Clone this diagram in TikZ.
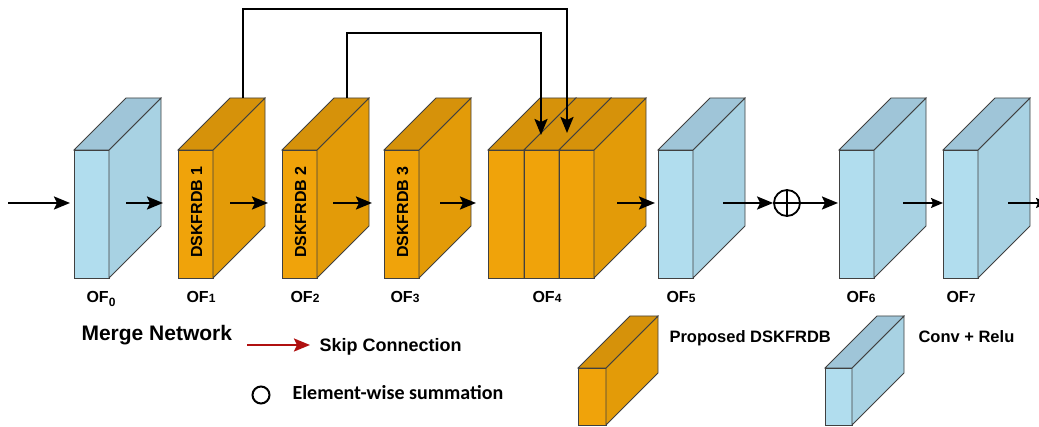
\documentclass[tikz,border=0pt]{standalone}
\usepackage{fontspec}
\setmainfont{Liberation Sans}
\newfontfamily\calfont{Carlito}
\usetikzlibrary{arrows.meta,calc}
\definecolor{orfront}{HTML}{F0A30A}
\definecolor{orside}{HTML}{E39B08}
\definecolor{ortop}{HTML}{D6920A}
\definecolor{blfront}{HTML}{B1DDEE}
\definecolor{blside}{HTML}{A8D2E3}
\definecolor{bltop}{HTML}{9FC5D8}
\definecolor{skipred}{HTML}{B01010}
% cuboid: name, front centre, front width, front height, colour prefix
\newcommand{\featbox}[5]{%
  \node[face,fill=#5front,minimum width=#3,minimum height=#4] (#1) at #2 {};
  \filldraw[face,fill=#5side] (#1.north east) -- ++(52,-52) -- ++(0,#4) -- (#1.south east) -- cycle;
  \filldraw[face,fill=#5top] (#1.north west) -- ++(52,-52) -- ++(#3,0) -- (#1.north east) -- cycle;
}
\newcommand{\ofidx}[1]{{\fontsize{12}{12}\selectfont #1}}
\begin{document}
\begin{tikzpicture}[x=1pt,y=-1pt,
    face/.style={draw=black!75,line width=0.8pt,inner sep=0pt,outer sep=0pt},
    flow/.style={line width=2.2pt,-{Stealth[length=16pt,width=13pt,inset=3pt]}},
    thinflow/.style={line width=1.3pt,-{Stealth[length=12pt,width=10pt,inset=2pt]}},
    lab/.style={anchor=base west,font=\bfseries\fontsize{16}{18}\selectfont},
    blocklab/.style={rotate=90,font=\bfseries\fontsize{16}{18}\selectfont}]
  \useasboundingbox (0,0) rectangle (1039,427);

  % feature maps
  \featbox{of0}{(91.5,214)}{35}{128}{bl}
  \featbox{of1}{(195.5,214)}{35}{128}{or}
  \featbox{of2}{(299.5,214)}{35}{128}{or}
  \featbox{of3}{(401.5,214)}{35}{128}{or}
  \featbox{of4a}{(506,214)}{36}{128}{or}
  \featbox{of4b}{(541.5,214)}{35}{128}{or}
  \featbox{of4c}{(576.5,214)}{35}{128}{or}
  \featbox{of5}{(675.5,214)}{35}{128}{bl}
  \featbox{of6}{(856.5,214)}{35}{128}{bl}
  \featbox{of7}{(960.5,214)}{35}{128}{bl}

  \node[blocklab] (db1) at (196.5,212) {DSKFRDB 1};
  \node[blocklab] (db2) at (300.5,212) {DSKFRDB 2};
  \node[blocklab] (db3) at (402.5,212) {DSKFRDB 3};

  % main flow
  \coordinate (in) at (8,203);
  \coordinate (out) at (1048,203);
  \node[circle,draw,line width=1.8pt,minimum size=26,inner sep=0pt] (sum) at (787,203) {};
  \draw[line width=1.8pt] (sum.north) -- (sum.south) (sum.west) -- (sum.east);
  \draw[flow] (in) -- ($(of0.west)+(-4,-11)$);
  \draw[flow] ($(of0.east)+(17,-11)$) -- ($(of0.east)+(54,-11)$);
  \draw[flow] ($(of1.east)+(17,-11)$) -- ($(of1.east)+(55,-11)$);
  \draw[flow] ($(of2.east)+(16,-11)$) -- ($(of2.east)+(55,-11)$);
  \draw[flow] ($(of3.east)+(21,-11)$) -- ($(of3.east)+(57,-11)$);
  \draw[flow] ($(of4c.east)+(23,-11)$) -- ($(of4c.east)+(61,-11)$);
  \draw[flow] ($(of5.east)+(30,-11)$) -- (sum.west);
  \draw[flow] (sum.east) -- ($(of6.west)+(-1,-11)$);
  \draw[thinflow] ($(of6.east)+(29,-11)$) -- ($(of7.west)+(0,-11)$);
  \draw[thinflow] ($(of7.east)+(30,-11)$) -- (out);

  % skip connections
  \coordinate (tip1) at (567,133);
  \coordinate (tip2) at (541,135);
  \draw[flow] ($(of1.north)+(47.5,-52)$) -- ++(0,-89) -| (tip1);
  \draw[flow] ($(of2.north)+(47.5,-52)$) -- ++(0,-65) -| (tip2);

  % labels
  \node[lab] (l0) at (83,303) {OF\raisebox{-4pt}{\ofidx{0}}};
  \node[lab] (l1) at (183,303) {OF\ofidx{1}};
  \node[lab] (l2) at (287,303) {OF\ofidx{2}};
  \node[lab] (l3) at (387,303) {OF\ofidx{3}};
  \node[lab] (l4) at (529,303) {OF\ofidx{4}};
  \node[lab] (l5) at (663,303) {OF\ofidx{5}};
  \node[lab] (l6) at (843,303) {OF\ofidx{6}};
  \node[lab] (l7) at (943,303) {OF\ofidx{7}};

  % legend
  \node[anchor=base west,font=\bfseries\fontsize{21}{23}\selectfont] (merge) at (78,341) {Merge Network};
  \coordinate (skipa) at (247,345);
  \coordinate (skipb) at (310,345);
  \draw[skipred,line width=2.2pt,-{Stealth[length=16pt,width=13pt,inset=3pt]}] (skipa) -- (skipb);
  \node[anchor=base west,font=\bfseries\fontsize{18}{20}\selectfont] (skiptxt) at (316,352) {Skip Connection};
  \node[circle,draw,line width=2pt,minimum size=17,inner sep=0pt] (legsum) at (261,395) {};
  \node[anchor=base west,font=\calfont\bfseries\fontsize{20}{22}\selectfont] (sumtxt) at (289,400) {Element-wise summation};
  \featbox{legdb}{(592,396.5)}{28}{57}{or}
  \featbox{legconv}{(838.5,396.5)}{27}{57}{bl}
  \node[anchor=base west,font=\bfseries\fontsize{16.5}{18}\selectfont] (dbtxt) at (666,343) {Proposed DSKFRDB};
  \node[anchor=base west,font=\bfseries\fontsize{16.5}{18}\selectfont] (convtxt) at (915,343) {Conv + Relu};
\end{tikzpicture}
\end{document}
